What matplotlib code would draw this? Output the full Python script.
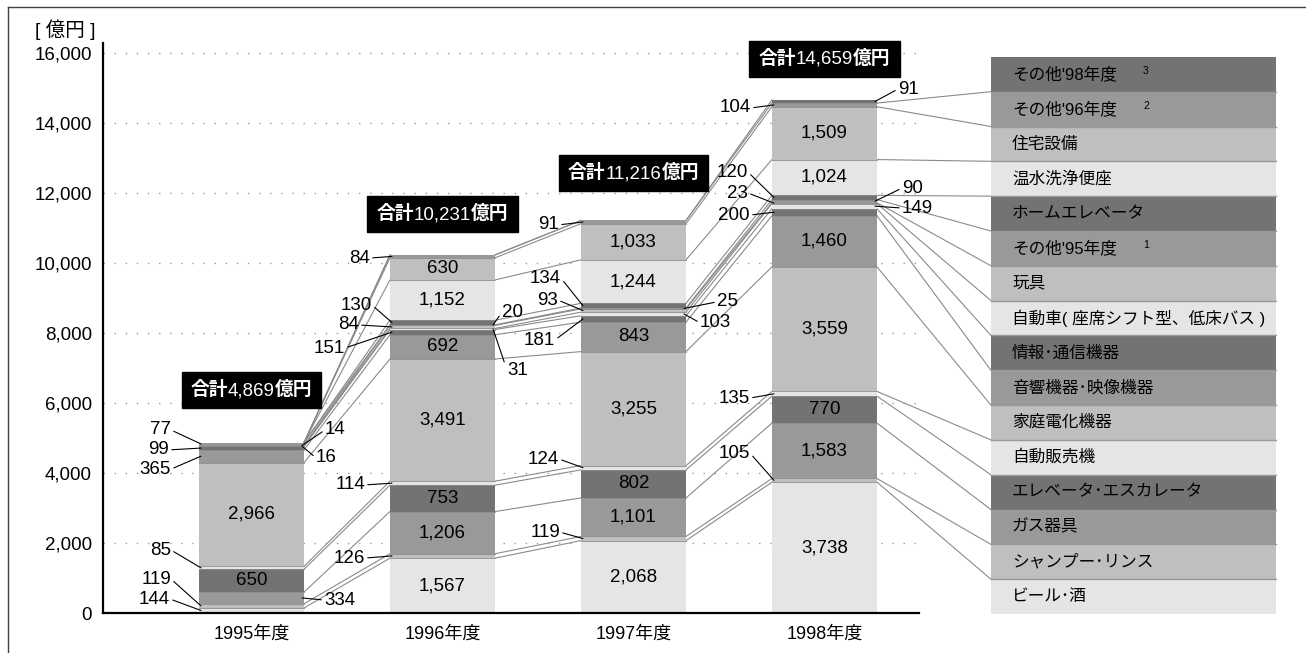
import matplotlib
matplotlib.use("Agg")
import matplotlib.pyplot as plt
from matplotlib.lines import Line2D
from matplotlib.patches import Rectangle
from matplotlib.offsetbox import TextArea, HPacker, AnnotationBbox
import numpy as np

plt.rcParams['font.family'] = ['Liberation Sans', 'Noto Sans CJK JP']

# データ (億円)
years = ['1995年度', '1996年度', '1997年度', '1998年度']
categories = ['ビール･酒', 'シャンプー･リンス', 'ガス器具', 'エレベータ･エスカレータ',
              '自動販売機', '家庭電化機器', '音響機器･映像機器', '情報･通信機器',
              '自動車( 座席シフト型、低床バス )', '玩具', "その他'95年度", 'ホームエレベータ',
              '温水洗浄便座', '住宅設備', "その他'96年度", "その他'98年度"]
notes = ['', '', '', '', '', '', '', '', '', '', '1', '', '', '', '2', '3']

beer = [144, 1567, 2068, 3738]
shampoo = [119, 126, 119, 105]
gas = [334, 1206, 1101, 1583]
elevator = [650, 753, 802, 770]
vending = [85, 114, 124, 135]
appliance = [2966, 3491, 3255, 3559]
audio = [365, 692, 843, 1460]
info = [99, 151, 181, 200]
car = [16, 31, 103, 149]
toy = [14, 84, 93, 23]
other95 = [77, 20, 25, 90]
home_elev = [0, 130, 134, 120]
toilet = [0, 1152, 1244, 1024]
housing = [0, 630, 1033, 1509]
other96 = [0, 84, 91, 104]
other98 = [0, 0, 0, 91]
totals = [4869, 10231, 11216, 14659]

values = np.array([beer, shampoo, gas, elevator, vending, appliance, audio, info,
                   car, toy, other95, home_elev, toilet, housing, other96, other98])

palette = ['#e5e5e5', '#bfbfbf', '#999999', '#737373']
colors = [palette[i % 4] for i in range(len(categories))]

# ラベル配置 (カテゴリ番号, 文字の横ずれ[px], 文字の高さ[億円])
label_layout = [
    [(0, -29, 400), (1, -28, 970), (4, -28, 1800), (6, -28, 4110), (7, -30, 4660),
     (10, -28, 5230), (9, 21, 5230), (8, 12, 4430), (2, 20, 370)],
    [(1, -25, 1570), (4, -25, 3660), (7, -45, 7570), (9, -31, 8230), (11, -18, 8800),
     (14, -20, 10140), (10, 7, 8600), (8, 12, 6940)],
    [(1, -21, 2310), (4, -22, 4400), (7, -26, 7800), (9, -23, 8940), (11, -20, 9570),
     (14, -22, 11090), (10, 31, 8890), (8, 14, 8290)],
    [(1, -22, 4570), (4, -22, 6140), (7, -22, 11370), (9, -24, 12000), (11, -24, 12600),
     (14, -21, 14430), (15, 21, 14970), (10, 25, 12140), (8, 25, 11570)],
]
total_y = [6360, 11400, 12570, 15830]

fig = plt.figure(figsize=(13.06, 6.53), dpi=100)
ax = fig.add_axes([103 / 1306, 40 / 653, 816 / 1306, 570 / 653])

x = np.arange(len(years))
bw = 0.55
xmin, xmax = -0.7775, 3.495
ax.set_xlim(xmin, xmax)
ax.set_ylim(0, 16286)
px = (xmax - xmin) / 816.0   # x data per pixel

cum = np.vstack([np.zeros(len(years)), np.cumsum(values, axis=0)])

for k in range(len(categories)):
    for i in range(len(years)):
        v = values[k][i]
        if v <= 0:
            continue
        ax.bar(x[i], v, bottom=cum[k][i], width=bw, color=colors[k],
               linewidth=0, zorder=2)
        if k > 0:
            ax.plot([x[i] - bw / 2, x[i] + bw / 2], [cum[k][i]] * 2,
                    color='#8c8c8c', lw=0.6, zorder=3)
        if v >= 600:
            ax.text(x[i], cum[k][i] + v / 2, f'{v:,}', ha='center', va='center',
                    fontsize=13.5, zorder=4)

# 年度間の連結線
for k in range(len(categories) + 1):
    for i in range(len(years) - 1):
        ax.plot([x[i] + bw / 2, x[i + 1] - bw / 2], [cum[k][i], cum[k][i + 1]],
                color='#8a8a8a', lw=0.8, zorder=1)

# 外側ラベル
for i, layout in enumerate(label_layout):
    for k, dx, ty in layout:
        v = values[k][i]
        mid = cum[k][i] + v / 2
        if dx < 0:
            edge = x[i] - bw / 2 + 2 * px
            ha, rel = 'right', (1, 0.5)
        else:
            edge = x[i] + bw / 2 - 2 * px
            ha, rel = 'left', (0, 0.5)
        tx = (x[i] - bw / 2 if dx < 0 else x[i] + bw / 2) + dx * px
        ax.annotate(f'{v:,}', xy=(edge, mid), xytext=(tx, ty), ha=ha, va='center',
                    fontsize=13.5, zorder=5,
                    arrowprops=dict(arrowstyle='-', color='black', lw=0.8,
                                    shrinkA=0, shrinkB=0, relpos=rel))

# 合計ラベル
for i in range(len(years)):
    tp = dict(color='white', fontsize=13.5)
    parts = [TextArea('合計', textprops=dict(tp, fontweight='bold')),
             TextArea(f'{totals[i]:,}', textprops=tp),
             TextArea('億円', textprops=dict(tp, fontweight='bold'))]
    box = HPacker(children=parts, pad=0, sep=0, align='baseline')
    ab = AnnotationBbox(box, (x[i], total_y[i]), frameon=True, pad=0.65,
                        bboxprops=dict(facecolor='black', edgecolor='black'), zorder=6)
    ax.add_artist(ab)

# 右側の凡例ボックス
lx0 = 3 + (991 - 824.5) * px
lx1 = 3 + (1276 - 824.5) * px
ly0, lh = -30, 995
for k in range(len(categories)):
    ax.add_patch(Rectangle((lx0, ly0 + k * lh), lx1 - lx0, lh, facecolor=colors[k],
                           linewidth=0, clip_on=False, zorder=2))
    if k > 0:
        ax.plot([lx0, lx1], [ly0 + k * lh] * 2, color='#999999', lw=1,
                clip_on=False, zorder=3)
    ax.text(lx0 + 21 * px, ly0 + (k + 0.5) * lh, categories[k], ha='left',
            va='center', fontsize=12, clip_on=False, zorder=3)
    if notes[k]:
        ax.text(lx0 + 152 * px, ly0 + (k + 0.6) * lh, notes[k], ha='left',
                va='center', fontsize=7.5, clip_on=False, zorder=3)
for k in range(1, len(categories)):
    ax.plot([x[-1] + bw / 2, lx0], [cum[k][-1], ly0 + k * lh], color='#8a8a8a',
            lw=0.8, clip_on=False, zorder=1)

# 軸
ax.set_xticks(x)
ax.set_xticklabels(years, fontsize=13)
ax.set_yticks(np.arange(0, 16001, 2000))
ax.set_yticklabels([f'{v:,}' for v in range(0, 16001, 2000)], fontsize=13.5)
ax.tick_params(axis='both', length=0)
ax.tick_params(axis='y', pad=8)
ax.tick_params(axis='x', pad=9)
ax.yaxis.grid(True, color='#999999', linestyle=(0, (1, 7)), lw=1)
ax.set_axisbelow(True)
for s in ['top', 'right']:
    ax.spines[s].set_visible(False)
for s in ['left', 'bottom']:
    ax.spines[s].set_linewidth(1.6)

fig.text(35 / 1306, 1 - 30 / 653, '[ 億円 ]', fontsize=14, va='center', ha='left')

# 外枠
fig.add_artist(Line2D([8 / 1306, 8 / 1306], [0, 1 - 7 / 653], color='#404040', lw=1,
                      transform=fig.transFigure))
fig.add_artist(Line2D([8 / 1306, 1], [1 - 7 / 653, 1 - 7 / 653], color='#404040', lw=1,
                      transform=fig.transFigure))

fig.savefig('out.png', dpi=100)
